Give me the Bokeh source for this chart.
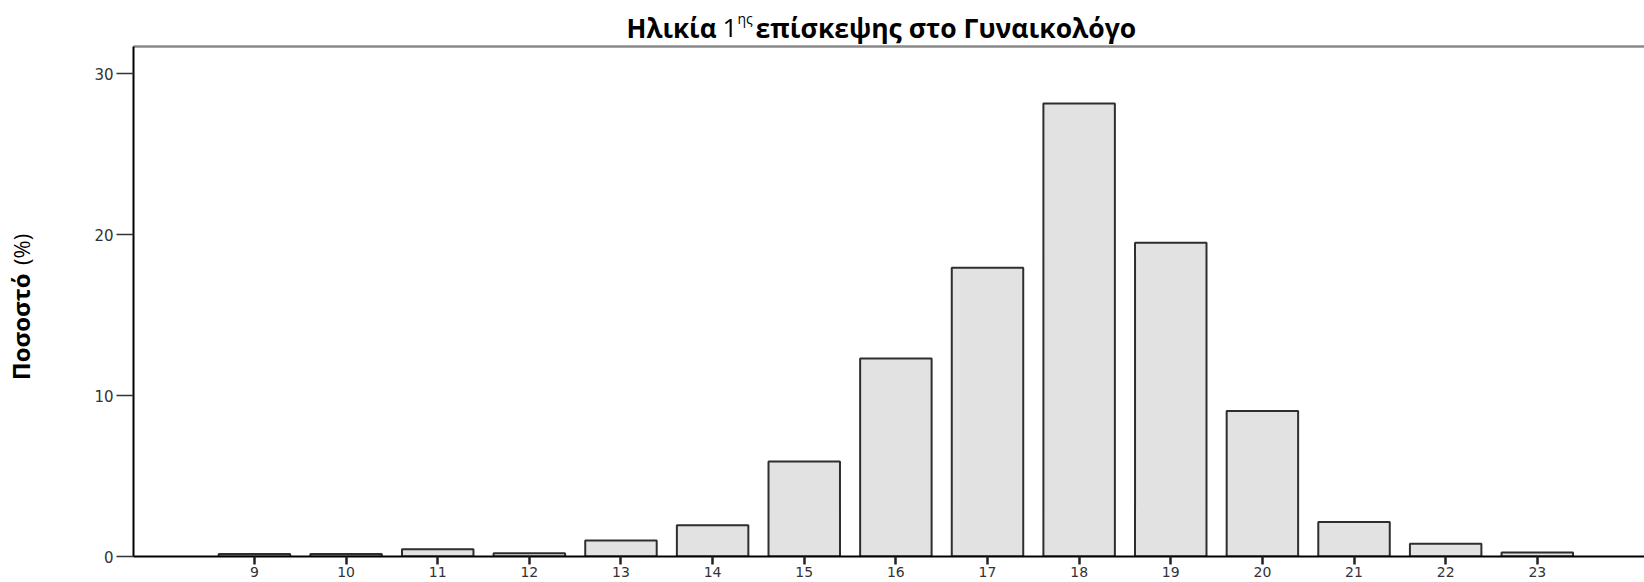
import math
from bokeh.plotting import figure
from bokeh.layouts import column, row
from bokeh.models import ColumnDataSource, FixedTicker, LinearAxis, Range1d
from bokeh.core.properties import value
from bokeh.embed import file_html
from bokeh.resources import INLINE

# ---- data ----
ages = [9, 10, 11, 12, 13, 14, 15, 16, 17, 18, 19, 20, 21, 22, 23]
percent = [0.15, 0.15, 0.45, 0.2, 1.0, 1.95, 5.9, 12.3, 17.95, 28.15, 19.5, 9.05, 2.15, 0.8, 0.25]
y_ticks = [0, 10, 20, 30]
title_parts = ["Ηλικία", "1", "ης", "επίσκεψης στο Γυναικολόγο"]
ylabel_parts = ["Ποσοστό", "(%)"]

X0, X1 = 7.68, 24.17
Y0, Y1 = 0, 31.7

TF = "Open Sans"
TICK_FONT = "DejaVu Sans"

W, H = 1644, 582
TITLE_H = 45
LEFT_W = 48


def bare(fig):
    fig.outline_line_color = None
    fig.xgrid.grid_line_color = None
    fig.ygrid.grid_line_color = None
    return fig


# ---- title strip (page pixel coordinates, y negated) ----
tfig = figure(width=W, height=TITLE_H, output_backend="svg", toolbar_location=None,
              x_range=Range1d(0, W), y_range=Range1d(-TITLE_H, 0),
              min_border=0, x_axis_location=None, y_axis_location=None)
bare(tfig)
tfig.text(x=[716], y=[-27], text=[title_parts[0]], text_font=value(TF), text_font_style="bold",
          text_font_size="26px", text_align="right", text_baseline="alphabetic", text_color="black")
tfig.text(x=[722], y=[-27], text=[title_parts[1]], text_font=value(TF), text_font_style="normal",
          text_font_size="26px", text_align="left", text_baseline="alphabetic", text_color="black")
tfig.text(x=[737], y=[-18], text=[title_parts[2]], text_font=value(TF), text_font_style="normal",
          text_font_size="14px", text_align="left", text_baseline="alphabetic", text_color="black")
tfig.text(x=[755], y=[-27], text=[title_parts[3]], text_font=value(TF), text_font_style="bold",
          text_font_size="26.5px", text_align="left", text_baseline="alphabetic", text_color="black")

# ---- y-axis label strip ----
lfig = figure(width=LEFT_W, height=H - TITLE_H, output_backend="svg", toolbar_location=None,
              x_range=Range1d(0, LEFT_W), y_range=Range1d(-H, -TITLE_H),
              min_border=0, x_axis_location=None, y_axis_location=None)
bare(lfig)
lfig.text(x=[20], y=[-284], text=[ylabel_parts[0]], text_font=value(TF), text_font_style="bold",
          text_font_size="24px", text_align="right", text_baseline="alphabetic",
          angle=math.pi / 2, text_color="black")
lfig.text(x=[20], y=[-275], text=[ylabel_parts[1]], text_font=value(TF), text_font_style="normal",
          text_font_size="22px", text_align="left", text_baseline="alphabetic",
          angle=math.pi / 2, text_color="black")

# ---- main chart ----
p = figure(width=W - LEFT_W, height=H - TITLE_H, output_backend="svg", toolbar_location=None,
           x_range=Range1d(X0, X1), y_range=Range1d(Y0, Y1),
           min_border_left=133 - LEFT_W, min_border_right=0, min_border_top=1, min_border_bottom=26,
           x_axis_location=None, y_axis_location=None)
bare(p)

src = ColumnDataSource(dict(x=ages, top=percent))
p.vbar(x="x", top="top", bottom=0, width=0.78, source=src,
       fill_color="#e2e2e2", line_color="#2e2e2e", line_width=2)

xa = LinearAxis(ticker=FixedTicker(ticks=ages))
xa.axis_line_color = "black"
xa.axis_line_width = 2
xa.major_tick_line_color = "#222222"
xa.major_tick_line_width = 2.5
xa.major_tick_out = 8
xa.major_tick_in = 0
xa.minor_tick_line_color = None
xa.major_label_text_font = TICK_FONT
xa.major_label_text_font_size = "14px"
xa.major_label_text_color = "#333333"
xa.major_label_standoff = 2
p.add_layout(xa, "below")

ya = LinearAxis(ticker=FixedTicker(ticks=y_ticks))
ya.axis_line_color = "black"
ya.axis_line_width = 2
ya.major_tick_line_color = "#333333"
ya.major_tick_line_width = 1.5
ya.major_tick_out = 17
ya.major_tick_in = 0
ya.minor_tick_line_color = None
ya.major_label_text_font = TICK_FONT
ya.major_label_text_font_size = "15px"
ya.major_label_text_color = "#333333"
ya.major_label_standoff = 3
p.add_layout(ya, "left")

top_axis = LinearAxis(ticker=FixedTicker(ticks=[]))
top_axis.axis_line_color = "#8a8a8a"
top_axis.axis_line_width = 2.5
top_axis.major_tick_line_color = None
top_axis.minor_tick_line_color = None
top_axis.major_tick_out = 0
top_axis.major_label_standoff = 0
top_axis.major_label_text_font_size = "0px"
p.add_layout(top_axis, "above")

layout = column(tfig, row(lfig, p, spacing=0), spacing=0)

open("out.html", "w").write(file_html(layout, INLINE))
